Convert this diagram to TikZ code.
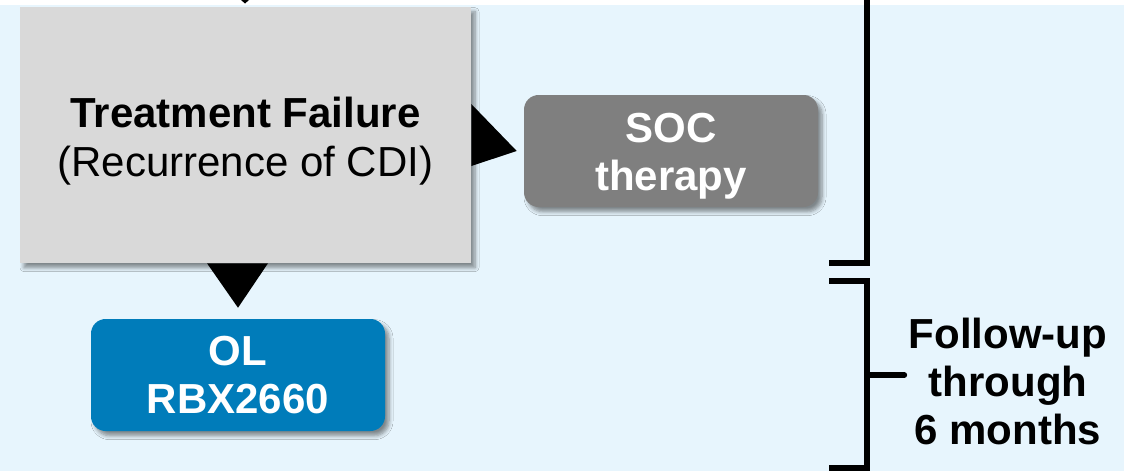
\documentclass[tikz,border=0pt]{standalone}
\usepackage{fontspec}
\setmainfont{Liberation Sans}
\usetikzlibrary{shadows,shadows.blur,calc}
\definecolor{bgblue}{HTML}{E7F5FD}
\definecolor{boxgray}{HTML}{D9D9D9}
\definecolor{socgray}{HTML}{7F7F7F}
\definecolor{olblue}{HTML}{007CBA}
\tikzset{
  bigtext/.style={font=\fontsize{31.5}{36.5}\selectfont, align=center},
  shad/.style={blur shadow={shadow xshift=3pt, shadow yshift=-3.5pt, shadow blur steps=6, shadow blur radius=3pt, shadow opacity=45}},
  failbox/.style={fill=boxgray, minimum width=338.25pt, minimum height=192pt, inner sep=0pt, shad},
  treatbox/.style={rounded corners=11pt, minimum width=220.5pt, minimum height=84pt, inner sep=0pt, shad},
  whitebold/.style={bigtext, text=white, font=\fontsize{31.5}{36}\selectfont\bfseries},
  tri/.style={fill=black},
  bracket/.style={line width=4.5pt, line cap=butt}
}
\begin{document}
\begin{tikzpicture}[x=0.75pt,y=-0.75pt]
\useasboundingbox (0,0) rectangle (1124,471);
\fill[white] (0,0) rectangle (1124,471);
\fill[bgblue] (0,5) rectangle (1124,471);
% boxes
\node[failbox] (fail) at (245.5,135) {};
\node[bigtext] (failtxt) at ($(fail.center)+(0,6)$) {\textbf{Treatment Failure}\\(Recurrence of CDI)};
\node[treatbox, fill=socgray] (soc) at (671,151) {};
\node[whitebold] (soctxt) at ($(soc.center)+(0,5)$) {SOC\\therapy};
\node[treatbox, fill=olblue] (ol) at (238,375) {};
\node[whitebold] (oltxt) at (ol.center) {OL\\RBX2660};
% top incoming arrow tip
\coordinate (topin) at (245,0);
\fill[tri] ($(topin)+(-4,0)$) -- ($(topin)+(4,0)$) -- ($(topin)+(0,3.5)$) -- cycle;
% arrow fail -> soc
\fill[tri] ($(fail.east)+(0,-31)$) -- ($(fail.east)+(0,31)$) -- ([xshift=-5.25pt]soc.west) -- cycle;
% arrow fail -> ol
\fill[tri] ($(ol.north |- fail.south)+(-31,0)$) -- ($(ol.north |- fail.south)+(30,0)$) -- ([yshift=8.25pt]ol.north) -- cycle;
% brackets
\coordinate (b1top) at (867,0);
\coordinate (b1bot) at (867,263);
\coordinate (b2top) at (867,281);
\coordinate (b2bot) at (867,468);
\coordinate (b2mid) at (867,375);
\draw[bracket] (b1top) -- (b1bot) -- ++(-38,0);
\draw[bracket] ($(b2top)+(-38,0)$) -- (b2top) -- (b2bot) -- ++(-38,0);
\node[bigtext, font=\fontsize{31.5}{36}\selectfont\bfseries] (fu) at (1008,381) {Follow-up\\through\\6 months};
\draw[bracket, line cap=round] (b2mid) -- (fu.west |- b2mid);
\end{tikzpicture}
\end{document}
